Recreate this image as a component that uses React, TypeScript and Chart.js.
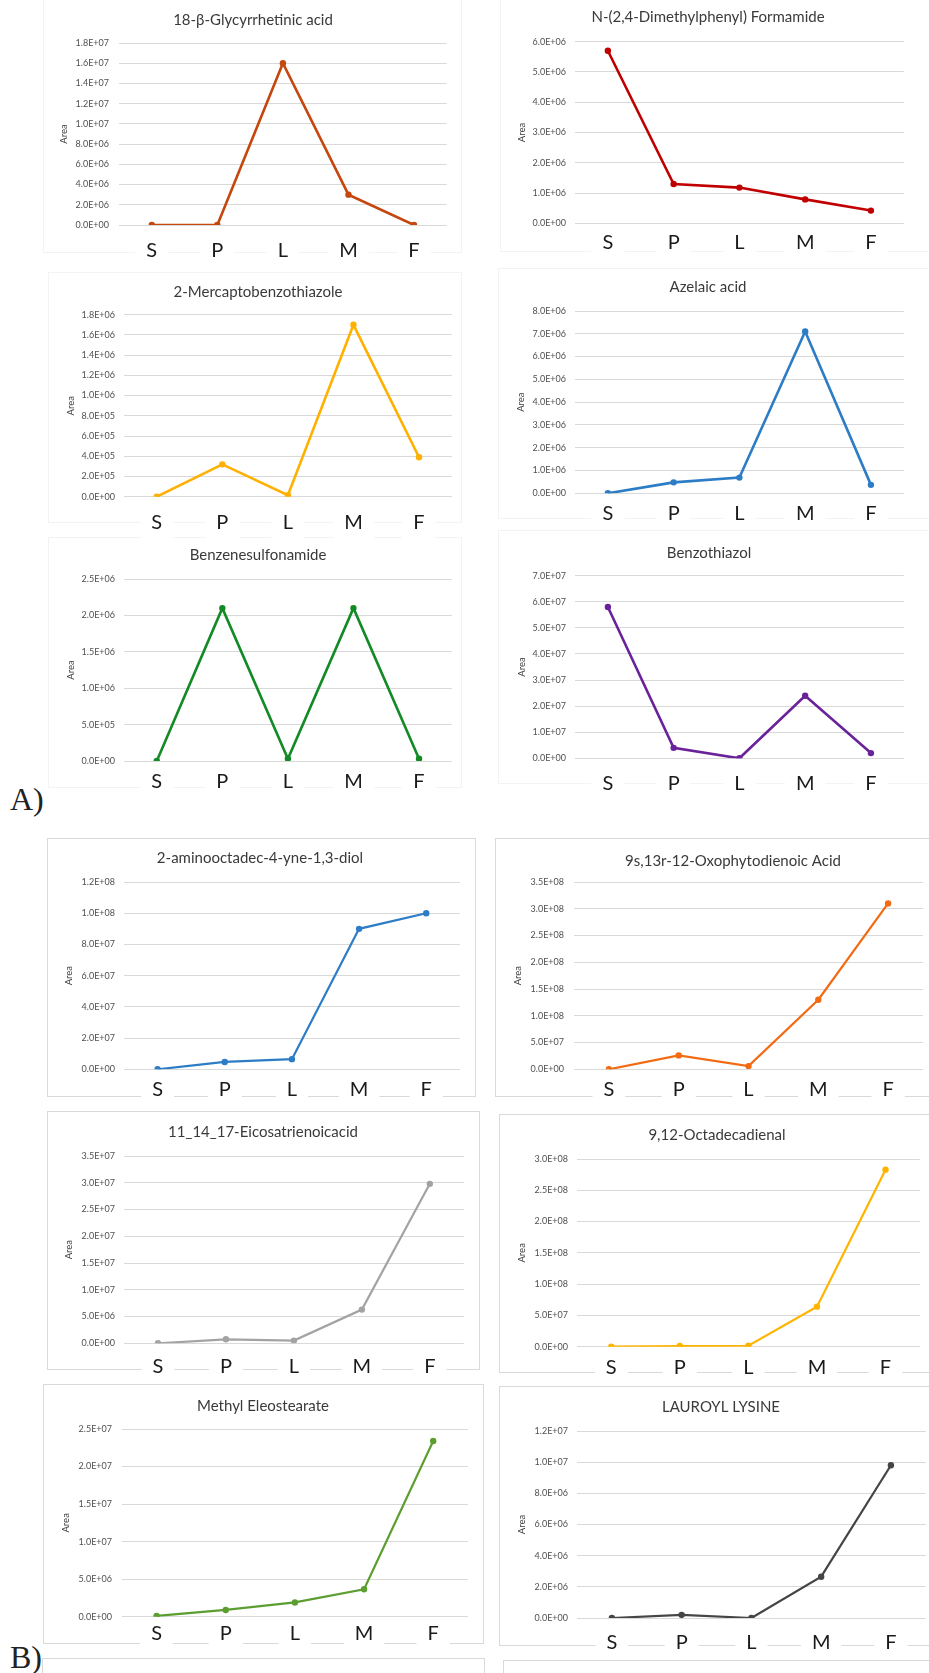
import React, { useEffect, useRef } from 'react';
import { Chart, registerables } from 'chart.js';

Chart.register(...registerables);

// ---------- DATA ----------
const categories = ['S', 'P', 'L', 'M', 'F'];

const glycyrrhetinicAcid = [0, 0, 1.6e7, 3.0e6, 0];
const dimethylphenylFormamide = [5.7e6, 1.3e6, 1.18e6, 7.9e5, 4.2e5];
const mercaptobenzothiazole = [0, 3.2e5, 1.5e4, 1.7e6, 3.9e5];
const azelaicAcid = [0, 4.8e5, 6.9e5, 7.1e6, 3.7e5];
const benzenesulfonamide = [0, 2.1e6, 3.0e4, 2.1e6, 3.0e4];
const benzothiazol = [5.8e7, 4.0e6, 0, 2.4e7, 2.0e6];
const aminooctadecyneDiol = [0, 4.7e6, 6.5e6, 9.0e7, 1.0e8];
const oxophytodienoicAcid = [0, 2.6e7, 6.0e6, 1.3e8, 3.1e8];
const eicosatrienoicAcid = [0, 7.5e5, 5.0e5, 6.3e6, 2.98e7];
const octadecadienal = [0, 1.0e6, 1.5e6, 6.4e7, 2.83e8];
const methylEleostearate = [1.0e5, 9.0e5, 1.9e6, 3.65e6, 2.34e7];
const lauroylLysine = [0, 2.0e5, 0, 2.65e6, 9.8e6];

const titles = [
  '18-β-Glycyrrhetinic acid',
  'N-(2,4-Dimethylphenyl) Formamide',
  '2-Mercaptobenzothiazole',
  'Azelaic acid',
  'Benzenesulfonamide',
  'Benzothiazol',
  '2-aminooctadec-4-yne-1,3-diol',
  '9s,13r-12-Oxophytodienoic Acid',
  '11_14_17-Eicosatrienoicacid',
  '9,12-Octadecadienal',
  'Methyl Eleostearate',
  'LAUROYL LYSINE',
];

const seriesList = [
  glycyrrhetinicAcid,
  dimethylphenylFormamide,
  mercaptobenzothiazole,
  azelaicAcid,
  benzenesulfonamide,
  benzothiazol,
  aminooctadecyneDiol,
  oxophytodienoicAcid,
  eicosatrienoicAcid,
  octadecadienal,
  methylEleostearate,
  lauroylLysine,
];

const yMax = [1.8e7, 6e6, 1.8e6, 8e6, 2.5e6, 7e7, 1.2e8, 3.5e8, 3.5e7, 3e8, 2.5e7, 1.2e7];
const yStep = [2e6, 1e6, 2e5, 1e6, 5e5, 1e7, 2e7, 5e7, 5e6, 5e7, 5e6, 2e6];

// ---------- STYLE / LAYOUT ----------
const colors = [
  '#C5470E', '#C00000', '#FFB000', '#2D7CC6', '#128A25', '#6A229A',
  '#2D7CC6', '#F26B12', '#A3A3A3', '#FFB400', '#5C9E30', '#454545',
];

type Geo = {
  tx: number; ty: number; l: number; r: number; t: number; b: number;
  tickRight: number; areaX: number; labelOff: number; lw: number;
};

const geos: Geo[] = [
  { tx: 253, ty: 20, l: 119, r: 450, t: 43, b: 225, tickRight: 109, areaX: 64, labelOff: 26, lw: 2.6 },
  { tx: 708, ty: 17, l: 575, r: 907, t: 41.7, b: 223.3, tickRight: 566, areaX: 522, labelOff: 19, lw: 2.6 },
  { tx: 258, ty: 292, l: 124, r: 455, t: 314.7, b: 496.7, tickRight: 115, areaX: 71, labelOff: 26, lw: 2.6 },
  { tx: 708, ty: 287, l: 575, r: 907, t: 311, b: 493.3, tickRight: 566, areaX: 521, labelOff: 20, lw: 2.6 },
  { tx: 258, ty: 555, l: 124, r: 455, t: 579, b: 761, tickRight: 115, areaX: 71, labelOff: 21, lw: 2.6 },
  { tx: 709, ty: 553, l: 575, r: 907, t: 575.7, b: 758.3, tickRight: 566, areaX: 522, labelOff: 25, lw: 2.6 },
  { tx: 260, ty: 858, l: 124, r: 463, t: 882, b: 1069.3, tickRight: 115, areaX: 69, labelOff: 20, lw: 2.2 },
  { tx: 733, ty: 861, l: 574, r: 923, t: 882, b: 1069.3, tickRight: 564, areaX: 518, labelOff: 20, lw: 2.2 },
  { tx: 263, ty: 1132, l: 124, r: 467, t: 1156, b: 1343.3, tickRight: 115, areaX: 69, labelOff: 23, lw: 2.2 },
  { tx: 717, ty: 1135, l: 577, r: 923, t: 1159, b: 1346.7, tickRight: 568, areaX: 522, labelOff: 21, lw: 2.2 },
  { tx: 263, ty: 1406, l: 122, r: 471, t: 1429, b: 1616.7, tickRight: 112, areaX: 66, labelOff: 17, lw: 2.2 },
  { tx: 721, ty: 1407, l: 577, r: 929, t: 1431, b: 1618, tickRight: 568, areaX: 522, labelOff: 25, lw: 2.2 },
];

type Box = { x: number; y: number; x2: number; y2: number; faint: boolean };
const boxes: Box[] = [
  { x: 43, y: -2, x2: 462, y2: 253, faint: true },
  { x: 500, y: -2, x2: 940, y2: 252, faint: true },
  { x: 48, y: 272, x2: 462, y2: 523, faint: true },
  { x: 498, y: 268, x2: 940, y2: 519, faint: true },
  { x: 48, y: 537, x2: 462, y2: 788, faint: true },
  { x: 498, y: 530, x2: 940, y2: 784, faint: true },
  { x: 47, y: 838, x2: 476, y2: 1097, faint: false },
  { x: 495, y: 838, x2: 940, y2: 1097, faint: false },
  { x: 47, y: 1111, x2: 480, y2: 1370, faint: false },
  { x: 499, y: 1114, x2: 940, y2: 1373, faint: false },
  { x: 43, y: 1384, x2: 484, y2: 1644, faint: false },
  { x: 499, y: 1386, x2: 940, y2: 1646, faint: false },
  { x: 42, y: 1658, x2: 485, y2: 1720, faint: false },
  { x: 503, y: 1660, x2: 940, y2: 1720, faint: false },
];

const FONT = 'Lato, "Open Sans", "Noto Sans", sans-serif';
const TITLE_SIZE = 15;
const TITLE_LH = TITLE_SIZE * 1.2;
const XLAB_SIZE = 20;
const XLAB_LH = XLAB_SIZE * 1.2;

function fmtSci(v: number): string {
  const s = Number(v).toExponential(1);
  const [m, e] = s.split('e');
  const n = parseInt(e, 10);
  const sign = n < 0 ? '-' : '+';
  return `${m}E${sign}${String(Math.abs(n)).padStart(2, '0')}`;
}

function MiniChart({ idx }: { idx: number }) {
  const ref = useRef<HTMLCanvasElement>(null);
  const g = geos[idx];
  const cx = Math.round(Math.min(2 * g.tx - g.r, g.areaX - 7.5));
  const cw = Math.round(2 * (g.tx - cx));
  const cy = Math.round(g.ty - TITLE_LH / 2);
  const ch = Math.round(g.b - cy + g.labelOff + 17);

  useEffect(() => {
    const W = g.l - cx;
    const H = ch - (g.b - cy);
    const rightGap = Math.max(0, cx + cw - g.r);
    const chart = new Chart(ref.current as HTMLCanvasElement, {
      type: 'line',
      data: {
        labels: categories,
        datasets: [
          {
            data: seriesList[idx],
            borderColor: colors[idx],
            backgroundColor: colors[idx],
            borderWidth: g.lw,
            pointRadius: 3.2,
            pointHoverRadius: 3.2,
            pointBorderWidth: 0,
            tension: 0,
            fill: false,
          },
        ],
      },
      options: {
        responsive: false,
        animation: false,
        events: [],
        layout: { padding: 0 },
        plugins: {
          legend: { display: false },
          tooltip: { enabled: false },
          title: {
            display: true,
            text: titles[idx],
            color: '#3a3a3a',
            font: { size: TITLE_SIZE, family: FONT, weight: 'normal', lineHeight: 1.2 },
            padding: { top: 0, bottom: g.t - cy - TITLE_LH },
          },
        },
        scales: {
          x: {
            type: 'category',
            offset: true,
            grid: { display: false, drawTicks: false },
            border: { display: false },
            ticks: {
              color: '#1a1a1a',
              font: { size: XLAB_SIZE, family: FONT, lineHeight: 1.2 },
              padding: g.labelOff - XLAB_LH / 2,
              maxRotation: 0,
              autoSkip: false,
              showLabelBackdrop: true,
              backdropColor: '#ffffff',
              backdropPadding: { left: 11, right: 11, top: 2, bottom: 5 },
            } as any,
            afterFit: (s: any) => {
              s.height = H;
            },
          },
          y: {
            type: 'linear',
            min: 0,
            max: yMax[idx],
            ticks: {
              stepSize: yStep[idx],
              callback: (v: any) => fmtSci(Number(v)),
              color: '#505050',
              font: { size: 9, family: FONT },
              padding: g.l - g.tickRight,
            },
            grid: { color: '#d9d9d9', lineWidth: 1, drawTicks: false },
            border: { display: false },
            title: {
              display: true,
              text: 'Area',
              color: '#404040',
              font: { size: 9.5, family: FONT, lineHeight: 1.2 },
              padding: { top: g.areaX - cx - 5.7, bottom: 0 },
            },
            afterFit: (s: any) => {
              s.width = W;
            },
          },
          yr: {
            type: 'linear',
            position: 'right',
            display: rightGap > 0.5,
            grid: { display: false, drawTicks: false },
            border: { display: false },
            ticks: { display: false },
            afterFit: (s: any) => {
              s.width = rightGap;
            },
          },
        },
      } as any,
    });
    return () => chart.destroy();
  }, []);

  return (
    <canvas
      ref={ref}
      width={cw}
      height={ch}
      style={{ position: 'absolute', left: cx, top: cy, width: cw, height: ch }}
    />
  );
}

export default function App() {
  return (
    <div
      style={{
        position: 'absolute',
        left: 0,
        top: 0,
        width: 929,
        height: 1673,
        overflow: 'hidden',
        background: '#ffffff',
      }}
    >
      {boxes.map((bx, i) => (
        <div
          key={'b' + i}
          style={{
            position: 'absolute',
            left: bx.x,
            top: bx.y,
            width: bx.x2 - bx.x,
            height: bx.y2 - bx.y,
            boxSizing: 'border-box',
            border: bx.faint ? '1px solid #f3f3f3' : '1.5px solid #d9d9d9',
          }}
        />
      ))}
      {geos.map((_, i) => (
        <MiniChart key={i} idx={i} />
      ))}
      <div
        style={{
          position: 'absolute',
          left: 10,
          top: 783,
          fontFamily: '"Liberation Serif", "Times New Roman", serif',
          fontSize: 32,
          lineHeight: '32px',
          color: '#222',
        }}
      >
        A)
      </div>
      <div
        style={{
          position: 'absolute',
          left: 10,
          top: 1641,
          fontFamily: '"Liberation Serif", "Times New Roman", serif',
          fontSize: 32,
          lineHeight: '32px',
          color: '#222',
        }}
      >
        B)
      </div>
    </div>
  );
}
